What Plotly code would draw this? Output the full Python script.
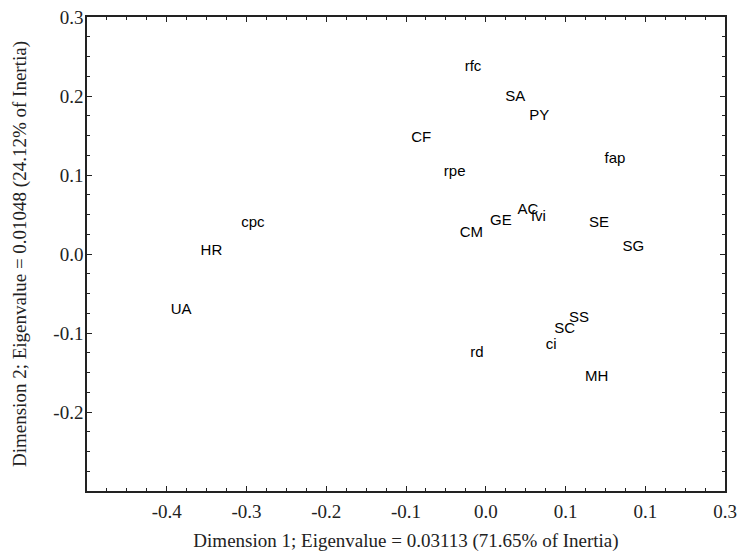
import plotly.graph_objects as go

labels = ["rfc", "SA", "PY", "CF", "fap", "rpe", "AC", "fvi", "GE", "SE",
          "CM", "SG", "cpc", "HR", "UA", "rd", "SS", "SC", "ci", "MH"]
dim1 = [-0.016, 0.037, 0.067, -0.081, 0.162, -0.039, 0.053, 0.066, 0.019, 0.142,
        -0.018, 0.185, -0.292, -0.344, -0.382, -0.011, 0.117, 0.099, 0.082, 0.139]
dim2 = [0.237, 0.198, 0.175, 0.146, 0.120, 0.104, 0.056, 0.047, 0.042, 0.039,
        0.026, 0.008, 0.039, 0.003, -0.071, -0.126, -0.081, -0.095, -0.116, -0.156]

x_tickvals = [-0.4, -0.3, -0.2, -0.1, 0.0, 0.1, 0.2, 0.3]
x_ticktext = ["-0.4", "-0.3", "-0.2", "-0.1", "0.0", "0.1", "0.1", "0.3"]
y_tickvals = [-0.2, -0.1, 0.0, 0.1, 0.2, 0.3]
y_ticktext = ["-0.2", "-0.1", "0.0", "0.1", "0.2", "0.3"]

x_title = "Dimension 1; Eigenvalue = 0.03113 (71.65% of Inertia)"
y_title = "Dimension 2; Eigenvalue = 0.01048 (24.12% of Inertia)"

serif = "Liberation Serif, Times New Roman, serif"
sans = "Liberation Sans, Arial, sans-serif"

fig = go.Figure(go.Scatter(
    x=dim1, y=dim2, text=labels, mode="text",
    textposition="middle center",
    textfont=dict(family=sans, size=15, color="black"),
    hoverinfo="text",
))

axis_common = dict(
    showgrid=False, zeroline=False, showline=True, linecolor="#222222",
    linewidth=1.5, mirror="allticks", ticks="inside", ticklen=5, tickwidth=1.2,
    tickcolor="#222222", automargin=False, ticklabeloverflow="allow",
    tickfont=dict(family=serif, size=19, color="#222222"),
    minor=dict(ticks="inside", ticklen=3, tickwidth=1, tickcolor="#222222", dtick=0.025),
)

fig.update_layout(
    width=738, height=553,
    margin=dict(l=87, r=13, t=17, b=62, autoexpand=False),
    paper_bgcolor="white", plot_bgcolor="white",
    showlegend=False,
    xaxis=dict(range=[-0.5, 0.3], tickmode="array", tickvals=x_tickvals,
               ticktext=x_ticktext, ticklabelstandoff=2,
               title=dict(text=x_title, font=dict(family=serif, size=19, color="#222222"),
                          standoff=13),
               **axis_common),
    yaxis=dict(range=[-0.3, 0.3], tickmode="array", tickvals=y_tickvals,
               ticktext=y_ticktext, ticklabelstandoff=-2,
               title=dict(text=y_title, font=dict(family=serif, size=19, color="#222222"),
                          standoff=22),
               **axis_common),
)

fig.write_html("out.html", config={"displayModeBar": False},
               post_script="document.body.style.margin='0';document.body.style.overflow='hidden';")
